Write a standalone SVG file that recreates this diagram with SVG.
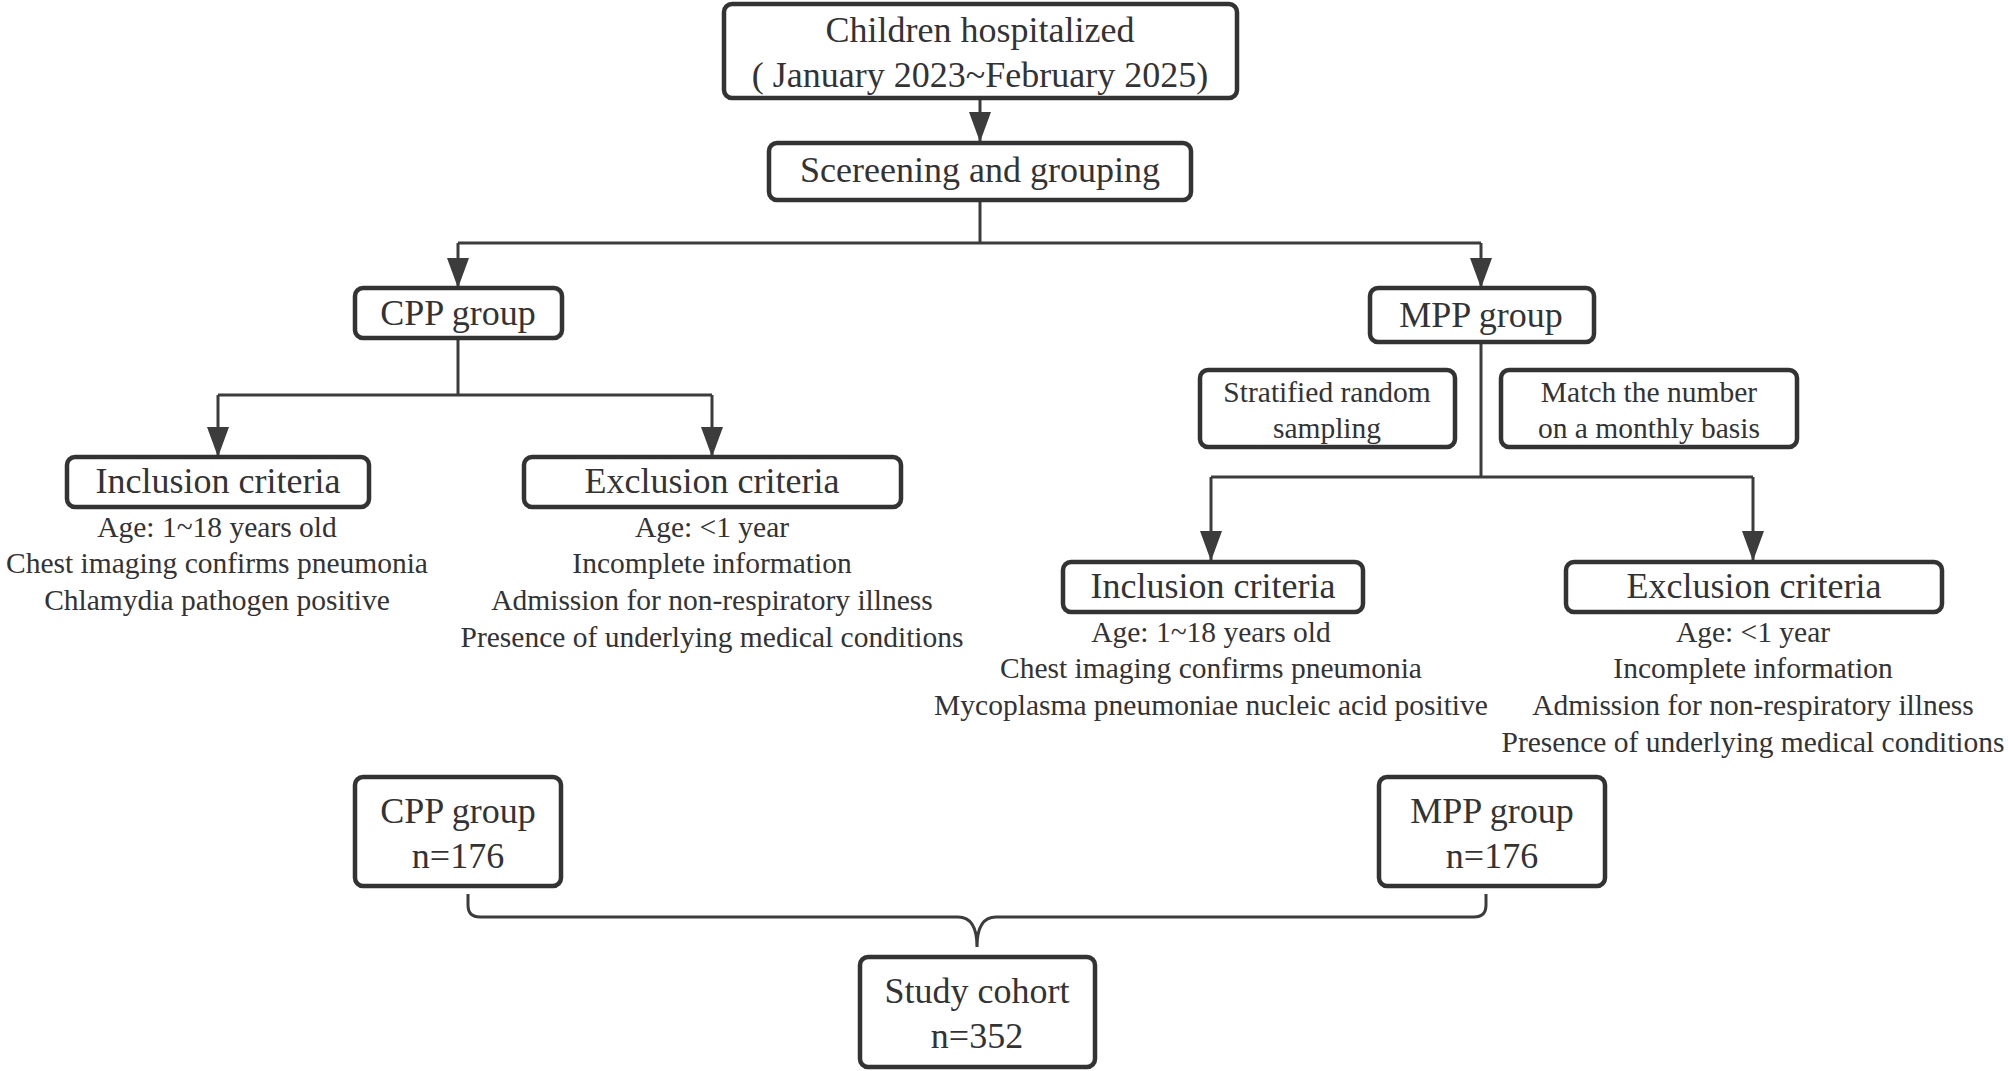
<svg xmlns="http://www.w3.org/2000/svg" width="2008" height="1071" viewBox="0 0 2008 1071">
<style>
.box{fill:#fff;stroke:#333;stroke-width:4.5}
.ln{fill:none;stroke:#3c3c3c;stroke-width:3}
.t{font-family:"Liberation Serif","Times New Roman",serif;fill:#333;text-anchor:middle}
.big{font-size:36px}
.sm{font-size:29.5px}
</style>
<defs>
<marker id="ah" markerUnits="userSpaceOnUse" markerWidth="22" markerHeight="30" refX="11" refY="30" orient="auto-start-reverse" viewBox="0 0 22 30">
<path d="M0,0 L22,0 L11,30 Z" fill="#3c3c3c" transform="rotate(-90 11 15) translate(-4 4)"/>
</marker>
</defs>
<defs>
<marker id="arr" markerUnits="userSpaceOnUse" markerWidth="30" markerHeight="22" refX="30" refY="11" orient="auto" viewBox="0 0 30 22">
<path d="M0,0 L30,11 L0,22 Z" fill="#3c3c3c"/>
</marker>
</defs>
<rect width="2008" height="1071" fill="#fff"/>
<g id="connectors">
<line class="ln" x1="980" y1="98" x2="980" y2="142" marker-end="url(#arr)"/>
<polyline class="ln" points="980,200 980,243"/>
<polyline class="ln" points="458,243 1481,243"/>
<line class="ln" x1="458" y1="243" x2="458" y2="288" marker-end="url(#arr)"/>
<line class="ln" x1="1481" y1="243" x2="1481" y2="288" marker-end="url(#arr)"/>
<polyline class="ln" points="458,338 458,395"/>
<polyline class="ln" points="218,395 712,395"/>
<line class="ln" x1="218" y1="395" x2="218" y2="457" marker-end="url(#arr)"/>
<line class="ln" x1="712" y1="395" x2="712" y2="457" marker-end="url(#arr)"/>
<polyline class="ln" points="1481,342 1481,477"/>
<polyline class="ln" points="1211,477 1753,477"/>
<line class="ln" x1="1211" y1="477" x2="1211" y2="561" marker-end="url(#arr)"/>
<line class="ln" x1="1753" y1="477" x2="1753" y2="561" marker-end="url(#arr)"/>
<path class="ln" d="M468,894 V905 Q468,917 480,917 H958 Q977,917 977,947 Q977,917 996,917 H1474 Q1486,917 1486,905 V894"/>
</g>
<g id="n-top">
<rect class="box" x="724" y="4" width="513" height="94" rx="8"/>
<text class="t big" x="980" y="42">Children hospitalized</text>
<text class="t big" x="980" y="87">( January 2023~February 2025)</text>
</g>
<g id="n-screen">
<rect class="box" x="769" y="143" width="422" height="57" rx="8"/>
<text class="t big" x="980" y="182">Scereening and grouping</text>
</g>
<g id="n-cpp">
<rect class="box" x="355" y="288" width="207" height="50" rx="8"/>
<text class="t big" x="458" y="325">CPP group</text>
</g>
<g id="n-mpp">
<rect class="box" x="1370" y="288" width="224" height="54" rx="8"/>
<text class="t big" x="1481" y="327">MPP group</text>
</g>
<g id="n-cpp-inc">
<rect class="box" x="67" y="457" width="302" height="50" rx="8"/>
<text class="t big" x="218" y="493">Inclusion criteria</text>
<text class="t sm" x="217" y="537">Age: 1~18 years old</text>
<text class="t sm" x="217" y="573">Chest imaging confirms pneumonia</text>
<text class="t sm" x="217" y="610">Chlamydia pathogen positive</text>
</g>
<g id="n-cpp-exc">
<rect class="box" x="524" y="457" width="377" height="50" rx="8"/>
<text class="t big" x="712" y="493">Exclusion criteria</text>
<text class="t sm" x="712" y="537">Age: &lt;1 year</text>
<text class="t sm" x="712" y="573">Incomplete information</text>
<text class="t sm" x="712" y="610">Admission for non-respiratory illness</text>
<text class="t sm" x="712" y="647">Presence of underlying medical conditions</text>
</g>
<g id="n-strat">
<rect class="box" x="1200" y="370" width="255" height="77" rx="8"/>
<text class="t sm" x="1327" y="402">Stratified random</text>
<text class="t sm" x="1327" y="438">sampling</text>
</g>
<g id="n-match">
<rect class="box" x="1501" y="370" width="296" height="77" rx="8"/>
<text class="t sm" x="1649" y="402">Match the number</text>
<text class="t sm" x="1649" y="438">on a monthly basis</text>
</g>
<g id="n-mpp-inc">
<rect class="box" x="1063" y="562" width="300" height="50" rx="8"/>
<text class="t big" x="1213" y="598">Inclusion criteria</text>
<text class="t sm" x="1211" y="642">Age: 1~18 years old</text>
<text class="t sm" x="1211" y="678">Chest imaging confirms pneumonia</text>
<text class="t sm" x="1211" y="715">Mycoplasma pneumoniae nucleic acid positive</text>
</g>
<g id="n-mpp-exc">
<rect class="box" x="1566" y="562" width="376" height="50" rx="8"/>
<text class="t big" x="1754" y="598">Exclusion criteria</text>
<text class="t sm" x="1753" y="642">Age: &lt;1 year</text>
<text class="t sm" x="1753" y="678">Incomplete information</text>
<text class="t sm" x="1753" y="715">Admission for non-respiratory illness</text>
<text class="t sm" x="1753" y="752">Presence of underlying medical conditions</text>
</g>
<g id="n-cpp-n">
<rect class="box" x="355" y="777" width="206" height="109" rx="8"/>
<text class="t big" x="458" y="823">CPP group</text>
<text class="t big" x="458" y="868">n=176</text>
</g>
<g id="n-mpp-n">
<rect class="box" x="1379" y="777" width="226" height="109" rx="8"/>
<text class="t big" x="1492" y="823">MPP group</text>
<text class="t big" x="1492" y="868">n=176</text>
</g>
<g id="n-cohort">
<rect class="box" x="860" y="957" width="235" height="110" rx="8"/>
<text class="t big" x="977" y="1003">Study cohort</text>
<text class="t big" x="977" y="1048">n=352</text>
</g>
</svg>
